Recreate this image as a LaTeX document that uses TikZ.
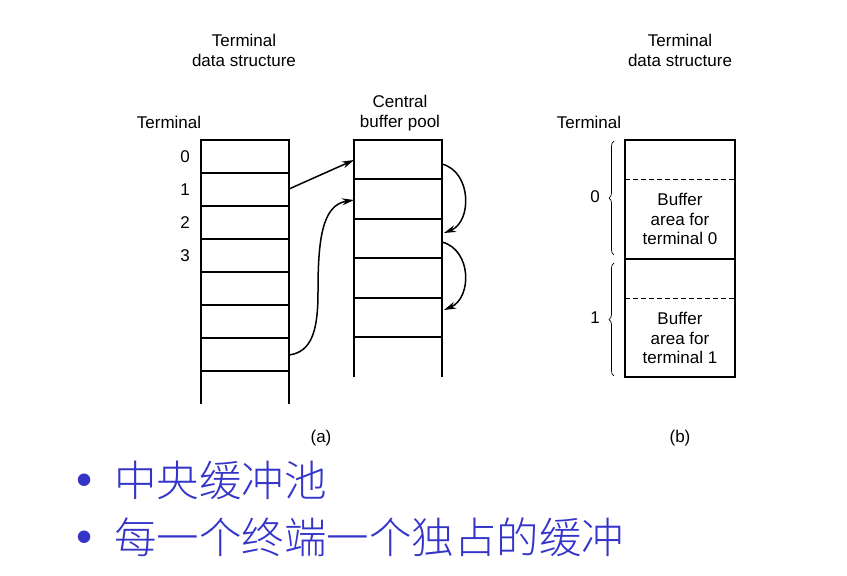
\documentclass[tikz,border=0pt]{standalone}
\usepackage{fontspec}
\setmainfont{Liberation Sans}
\newfontfamily\cjk{Noto Sans CJK SC Light}
\usetikzlibrary{arrows.meta,decorations.pathreplacing}
\definecolor{bulletblue}{RGB}{52,52,200}
\tikzset{
  lbl/.style={inner sep=0pt, font=\fontsize{17}{20}\selectfont, align=center},
  cell/.style={line width=1.8pt},
  arr/.style={line width=1.5pt, -{Stealth[length=12pt,width=7pt]}},
  cn/.style={inner sep=0pt, anchor=west, text=bulletblue, font=\fontsize{42.5}{46}\cjk},
  bul/.style={inner sep=0pt, text=bulletblue, font=\fontsize{46}{46}\selectfont},
}
\begin{document}
\begin{tikzpicture}[x=1pt,y=-1pt]
\useasboundingbox (0,0) rectangle (847,576);
% ---------- (a) terminal data structure ----------
\node[lbl] (tds) at (244,50) {Terminal\\[0pt]data structure};
\node[lbl] (term) at (169,122) {Terminal};
\foreach \i/\y in {0/157,1/190,2/223,3/256}
  \node[lbl] (n\i) at (185,\y) {\i};
\draw[cell] (201,404) -- (201,140) -- (289,140) -- (289,404);
\foreach \y in {173,206,239,272,305,338,371}
  \draw[cell] (201,\y) -- (289,\y);
\coordinate (t1e) at (289,189);
\coordinate (t6e) at (289,355);
% ---------- central buffer pool ----------
\node[lbl] (cbp) at (400,113) {Central\\[0pt]buffer pool};
\draw[cell] (354,377) -- (354,140) -- (442,140) -- (442,377);
\foreach \y in {179,219,258,298,337}
  \draw[cell] (354,\y) -- (442,\y);
\coordinate (p0w) at (354,160);
\coordinate (p1w) at (354,200);
\coordinate (p0e) at (442,164);
\coordinate (p2e) at (444,233);
\coordinate (p2eb) at (442,242);
\coordinate (p4e) at (444,310);
\draw[arr] (t1e) -- (p0w);
\draw[arr] (t6e) .. controls (312,352) and (318,330) .. (318,292)
  .. controls (318,240) and (322,205) .. (p1w);
\draw[arr] (p0e) .. controls (472,172) and (472,222) .. (p2e);
\draw[arr] (p2eb) .. controls (472,250) and (472,298) .. (p4e);
\node[lbl] (la) at (321,438) {(a)};
% ---------- (b) ----------
\node[lbl] (tds2) at (680,50) {Terminal\\[0pt]data structure};
\node[lbl] (term2) at (589,122) {Terminal};
\draw[cell] (625,140) rectangle (735,377);
\draw[cell] (625,259) -- (735,259);
\draw[line width=0.9pt, dashed, dash pattern=on 5pt off 3pt] (625,179) -- (735,179);
\draw[line width=0.9pt, dashed, dash pattern=on 5pt off 3pt] (625,298) -- (735,298);
\node[lbl, font=\fontsize{17}{19.5}\selectfont] (ba0) at (680,219) {Buffer\\area for\\terminal 0};
\node[lbl, font=\fontsize{17}{19.5}\selectfont] (ba1) at (680,338) {Buffer\\area for\\terminal 1};
\draw[line width=0.7pt, decorate, decoration={brace, amplitude=5pt}] (614,255) -- (614,141);
\draw[line width=0.7pt, decorate, decoration={brace, amplitude=5pt}] (614,376) -- (614,263);
\node[lbl] (b0) at (595,197) {0};
\node[lbl] (b1) at (595,318) {1};
\node[lbl] (lb) at (680,438) {(b)};
% ---------- bullets ----------
\node[bul] (d1) at (85,485) {\textbullet};
\node[bul] (d2) at (85,542) {\textbullet};
\node[cn] (c1) at (114,480) {中央缓冲池};
\node[cn] (c2) at (114,537) {每一个终端一个独占的缓冲};
\end{tikzpicture}
\end{document}
